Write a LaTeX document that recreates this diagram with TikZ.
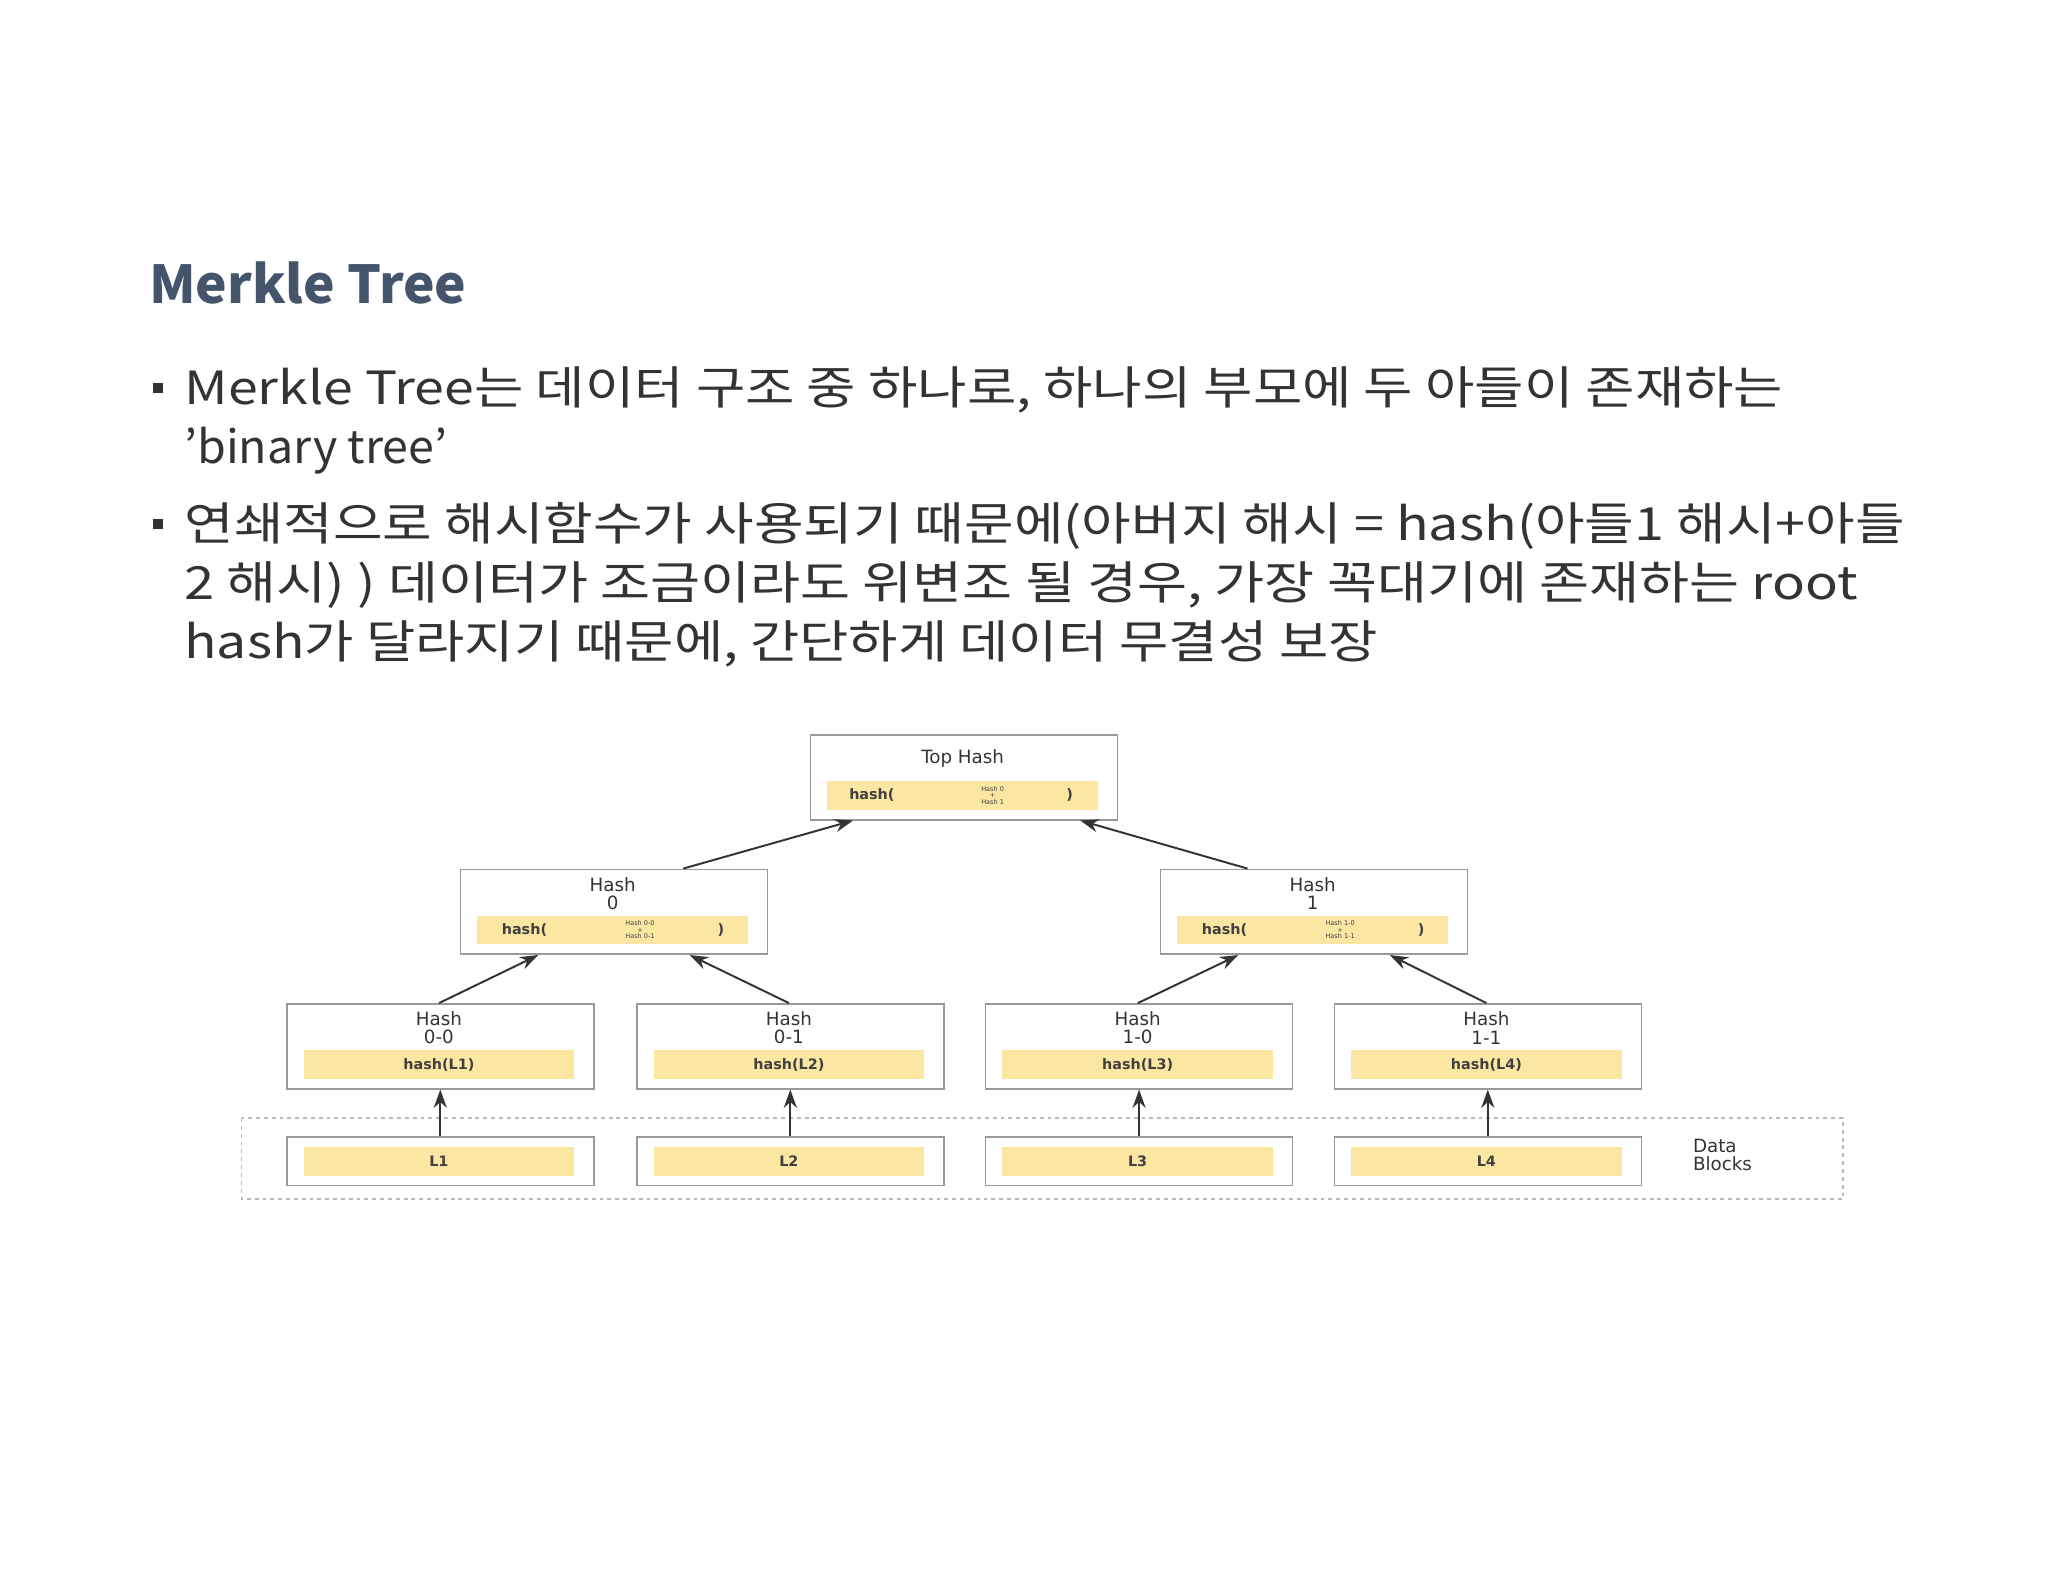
\documentclass[tikz,border=0pt]{standalone}
\usepackage{fontspec}
\usepackage{graphicx}
\setmainfont{Noto Sans CJK KR}
\newfontfamily\dv{DejaVu Sans}
\usetikzlibrary{arrows.meta}
\definecolor{titlec}{HTML}{44546A}
\definecolor{bodyc}{HTML}{333333}
\definecolor{ylw}{HTML}{FBE6A2}
\definecolor{bdr}{HTML}{999999}
\newcommand{\fitw}[2]{\resizebox{#1}{\height}{#2}}
\tikzset{
 hbox/.style={draw=bdr,line width=1.2pt,minimum width=235pt,minimum height=65pt,anchor=north west,inner sep=0},
 dbox/.style={draw=bdr,line width=1.2pt,minimum width=235pt,minimum height=37pt,anchor=north west,inner sep=0},
 ybar/.style={fill=ylw,minimum width=207pt,minimum height=22pt,inner sep=0},
 lab/.style={font=\dv\fontsize{14}{14}\selectfont,text=black!80,align=center,inner sep=0},
 small/.style={font=\dv\fontsize{11}{11}\selectfont\bfseries,text=black!75,inner sep=0},
 tiny/.style={font=\dv\fontsize{5}{5}\selectfont,text=black!75,align=center,inner sep=0},
 arr/.style={-{Stealth[length=14pt,width=10pt]},line width=1.5pt,black!80},
 body/.style={font=\fontsize{35}{47}\selectfont,text=bodyc,anchor=base west,inner sep=0}
}
\begin{document}
\begin{tikzpicture}[x=1pt,y=-1pt]
\useasboundingbox (0,0) rectangle (1568,1211);
\node[font=\fontsize{40}{40}\selectfont\bfseries,text=titlec,anchor=base west,inner sep=0] (title) at (114,232) {\fitw{243pt}{Merkle Tree}};
\node[fill=bodyc,minimum size=8pt,inner sep=0] (b1) at (121,297) {};
\node[body] (t1) at (141,310) {\fitw{1224pt}{Merkle Tree는 데이터 구조 중 하나로, 하나의 부모에 두 아들이 존재하는}};
\node[body] (t2) at (141,355) {\fitw{201pt}{'binary tree'}};
\node[fill=bodyc,minimum size=8pt,inner sep=0] (b2) at (121,401) {};
\node[body] (t3) at (141,414) {\fitw{1317pt}{연쇄적으로 해시함수가 사용되기 때문에(아버지 해시 = hash(아들1 해시+아들}};
\node[body] (t4) at (141,459) {\fitw{1281pt}{2 해시) ) 데이터가 조금이라도 위변조 될 경우, 가장 꼭대기에 존재하는 root}};
\node[body] (t5) at (141,504) {\fitw{914pt}{hash가 달라지기 때문에, 간단하게 데이터 무결성 보장}};
% dashed data block region
\draw[dashed,draw=bdr!70,line width=1pt] (185,856) rectangle (1411,918);
\node[lab,anchor=north west,align=left] (db) at (1296,872) {Data\\Blocks};
% top
\node[hbox] (top) at (620,562) {};
\node[lab] (topl) at (737,581) {Top Hash};
\node[ybar,minimum width=207pt] (topy) at (737,609) {};
\node[small,anchor=west] at (650,609) {hash(};
\node[tiny] at (760,609) {Hash 0\\+\\Hash 1};
\node[small] at (819,609) {)};
% level 1
\foreach \n/\x/\a/\b in {h0/352/0/0,h1/888/1/1}{
  \node[hbox] (\n) at (\x,665) {};
  \node[lab] at (\x+117,684) {Hash\\\a};
  \node[ybar] at (\x+117,712) {};
  \node[small,anchor=west] at (\x+32,712) {hash(};
  \node[tiny] at (\x+138,712) {Hash \b-0\\+\\Hash \b-1};
  \node[small] at (\x+200,712) {)};
}
% leaves
\foreach \n/\x/\t/\l in {a/219/0-0/1,b/487/0-1/2,c/754/1-0/3,d/1021/1-1/4}{
  \node[hbox] (l\n) at (\x,768) {};
  \node[lab] at (\x+117,787) {Hash\\\t};
  \node[ybar] at (\x+117,815) {};
  \node[small] at (\x+117,815) {hash(L\l)};
  \node[dbox] (d\n) at (\x,870) {};
  \node[ybar] at (\x+117,889) {};
  \node[small] at (\x+117,889) {L\l};
  \draw[arr] (d\n.north) -- (l\n.south);
}
\draw[arr] ([xshift=-1pt]la.north) -- ([xshift=-58pt]h0.south);
\draw[arr] ([xshift=-1pt]lb.north) -- ([xshift=58pt]h0.south);
\draw[arr] ([xshift=-1pt]lc.north) -- ([xshift=-58pt]h1.south);
\draw[arr] ([xshift=-1pt]ld.north) -- ([xshift=58pt]h1.south);
\draw[arr] ([xshift=53pt]h0.north) -- ([xshift=-85pt]top.south);
\draw[arr] ([xshift=-51pt]h1.north) -- ([xshift=89pt]top.south);
\end{tikzpicture}
\end{document}
